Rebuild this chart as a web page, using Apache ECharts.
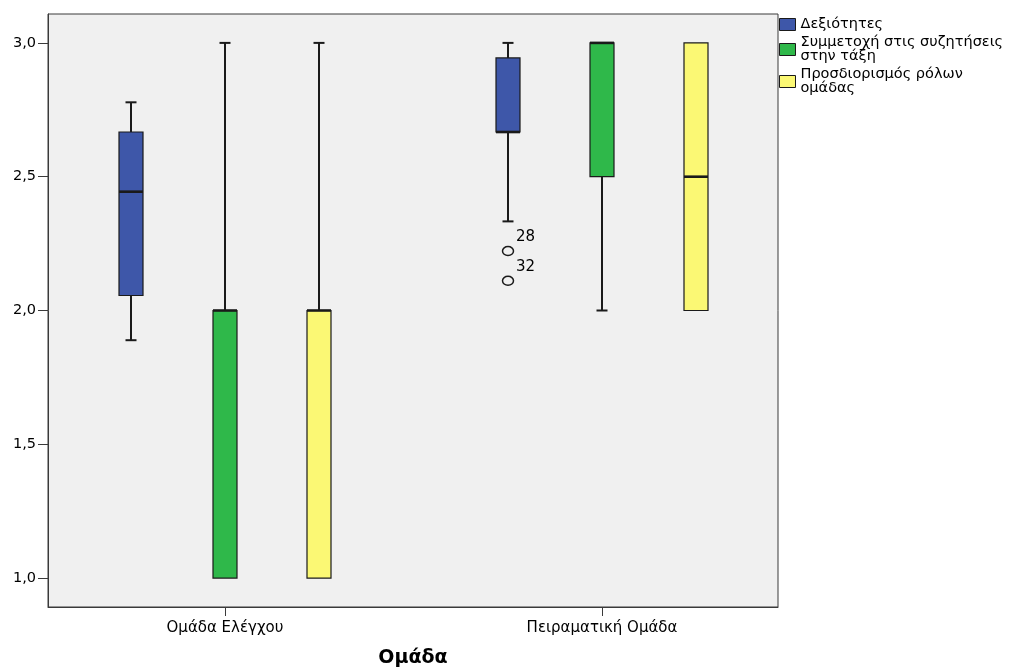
<!DOCTYPE html>
<html>
<head>
<meta charset="utf-8">
<script src="https://cdn.jsdelivr.net/npm/echarts@6/dist/echarts.min.js"></script>
<style>
  html, body { margin: 0; padding: 0; background: #ffffff; }
  #chart { width: 1013px; height: 668px; }
</style>
</head>
<body>
<div id="chart"></div>
<script>
// Groups on the horizontal axis
const groups = ['Ομάδα Ελέγχου', 'Πειραματική Ομάδα'];
const axisTitle = 'Ομάδα';

// Series (variables) and their legend text
const seriesNames = ['Δεξιότητες', 'Συμμετοχή στις συζητήσεις στην τάξη', 'Προσδιορισμός ρόλων ομάδας'];
const legendText = ['Δεξιότητες', 'Συμμετοχή στις συζητήσεις\nστην τάξη', 'Προσδιορισμός ρόλων\nομάδας'];

// Five-number summaries per group: [min, Q1, median, Q3, max]
const skills        = [[1.889, 2.056, 2.444, 2.667, 2.778], [2.333, 2.667, 2.667, 2.944, 3.0]];
const participation = [[1.0, 1.0, 2.0, 2.0, 3.0],           [2.0, 2.5, 3.0, 3.0, 3.0]];
const roles         = [[1.0, 1.0, 2.0, 2.0, 3.0],           [2.0, 2.0, 2.5, 3.0, 3.0]];

// Outliers for Δεξιότητες: [groupIndex, value, case number]
const skillsOutliers = [[1, 2.222, '28'], [1, 2.111, '32']];

// Value-axis tick labels
const yTicks = [1.0, 1.5, 2.0, 2.5, 3.0];

const colors = ['#3e57a9', '#2fb84a', '#fbf874'];
const INK = '#1a1a1a';
const FONT = '"DejaVu Sans", Verdana, sans-serif';
const BOX_W = 24;
const CAP_W = 11;

function boxSeries(idx, stats, outliers) {
  const slot = idx - 1; // -1, 0, +1 within the group
  return {
    type: 'custom',
    name: seriesNames[idx],
    itemStyle: { color: colors[idx], borderColor: INK, borderWidth: 1 },
    encode: { x: 0, y: [1, 2, 3, 4, 5] },
    data: stats.map((s, i) => [i].concat(s)),
    renderItem(params, api) {
      const g = api.value(0);
      const slotPx = api.size([0.25, 0])[0];
      const cx = Math.round(api.coord([g, 0])[0] + slot * slotPx);
      const y = [1, 2, 3, 4, 5].map(k => api.coord([g, api.value(k)])[1]);
      const children = [];
      const line = (x1, y1, x2, y2, w) => ({
        type: 'line',
        shape: { x1, y1, x2, y2 },
        style: { stroke: INK, lineWidth: w }
      });
      // upper whisker + cap
      if (Math.abs(y[4] - y[3]) > 0.5) {
        children.push(line(cx, y[4], cx, y[3], 2));
        children.push(line(cx - CAP_W / 2, y[4], cx + CAP_W / 2, y[4], 2));
      }
      // lower whisker + cap
      if (Math.abs(y[0] - y[1]) > 0.5) {
        children.push(line(cx, y[1], cx, y[0], 2));
        children.push(line(cx - CAP_W / 2, y[0], cx + CAP_W / 2, y[0], 2));
      }
      // box from Q1 to Q3
      children.push({
        type: 'rect',
        shape: { x: cx - BOX_W / 2, y: y[3], width: BOX_W, height: y[1] - y[3] },
        style: { fill: colors[idx], stroke: INK, lineWidth: 1.2 }
      });
      // median
      children.push(line(cx - BOX_W / 2, y[2], cx + BOX_W / 2, y[2], 2.6));
      // outliers belonging to this group
      (outliers || []).filter(o => o[0] === g).forEach(o => {
        const oy = api.coord([g, o[1]])[1];
        children.push({
          type: 'ellipse',
          shape: { cx, cy: oy, rx: 5.5, ry: 4.5 },
          style: { fill: 'none', stroke: INK, lineWidth: 1.5 }
        });
        children.push({
          type: 'text',
          x: cx + 8, y: oy - 14,
          style: { text: o[2], fill: '#000', font: '15px ' + FONT, verticalAlign: 'middle', align: 'left' }
        });
      });
      return { type: 'group', children };
    }
  };
}

const chart = echarts.init(document.getElementById('chart'), null, { renderer: 'canvas' });

chart.setOption({
  animation: false,
  backgroundColor: '#ffffff',
  textStyle: { fontFamily: FONT },
  grid: {
    left: 48, top: 14, width: 730, height: 593,
    show: true, backgroundColor: '#f0f0f0', borderColor: '#3a3a3a', borderWidth: 1,
    outerBoundsMode: 'none'
  },
  legend: {
    orient: 'vertical',
    left: 779, top: 17,
    padding: 0,
    itemGap: 3,
    itemWidth: 16, itemHeight: 12,
    icon: 'rect',
    itemStyle: { borderColor: INK, borderWidth: 1 },
    textStyle: { fontSize: 14.5, fontFamily: FONT, color: '#000', lineHeight: 14, padding: [0, 0, 0, 0] },
    formatter: name => legendText[seriesNames.indexOf(name)],
    data: seriesNames
  },
  xAxis: {
    type: 'value',
    min: -0.4695, max: 1.4668,
    splitLine: { show: false },
    axisLine: { show: true, onZero: false, lineStyle: { color: '#3a3a3a', width: 1 } },
    axisTick: { show: true, customValues: [0, 1], length: 9, lineStyle: { color: '#3a3a3a' } },
    axisLabel: {
      customValues: [0, 1], formatter: v => groups[Math.round(v)],
      fontSize: 15, fontFamily: FONT, color: '#000', margin: 14
    },
    name: axisTitle, nameLocation: 'middle', nameGap: 42,
    nameTextStyle: { fontSize: 19, fontWeight: 'bold', fontFamily: FONT, color: '#000' }
  },
  yAxis: {
    type: 'value',
    min: 0.892, max: 3.108,
    splitLine: { show: false },
    axisLine: { show: true, onZero: false, lineStyle: { color: '#3a3a3a', width: 1 } },
    axisTick: { show: true, customValues: yTicks, length: 10, lineStyle: { color: '#3a3a3a' } },
    axisLabel: {
      customValues: yTicks, formatter: v => v.toFixed(1).replace('.', ','),
      fontSize: 14.5, fontFamily: FONT, color: '#000', margin: 12
    }
  },
  series: [
    boxSeries(0, skills, skillsOutliers),
    boxSeries(1, participation),
    boxSeries(2, roles)
  ]
});
</script>
</body>
</html>
